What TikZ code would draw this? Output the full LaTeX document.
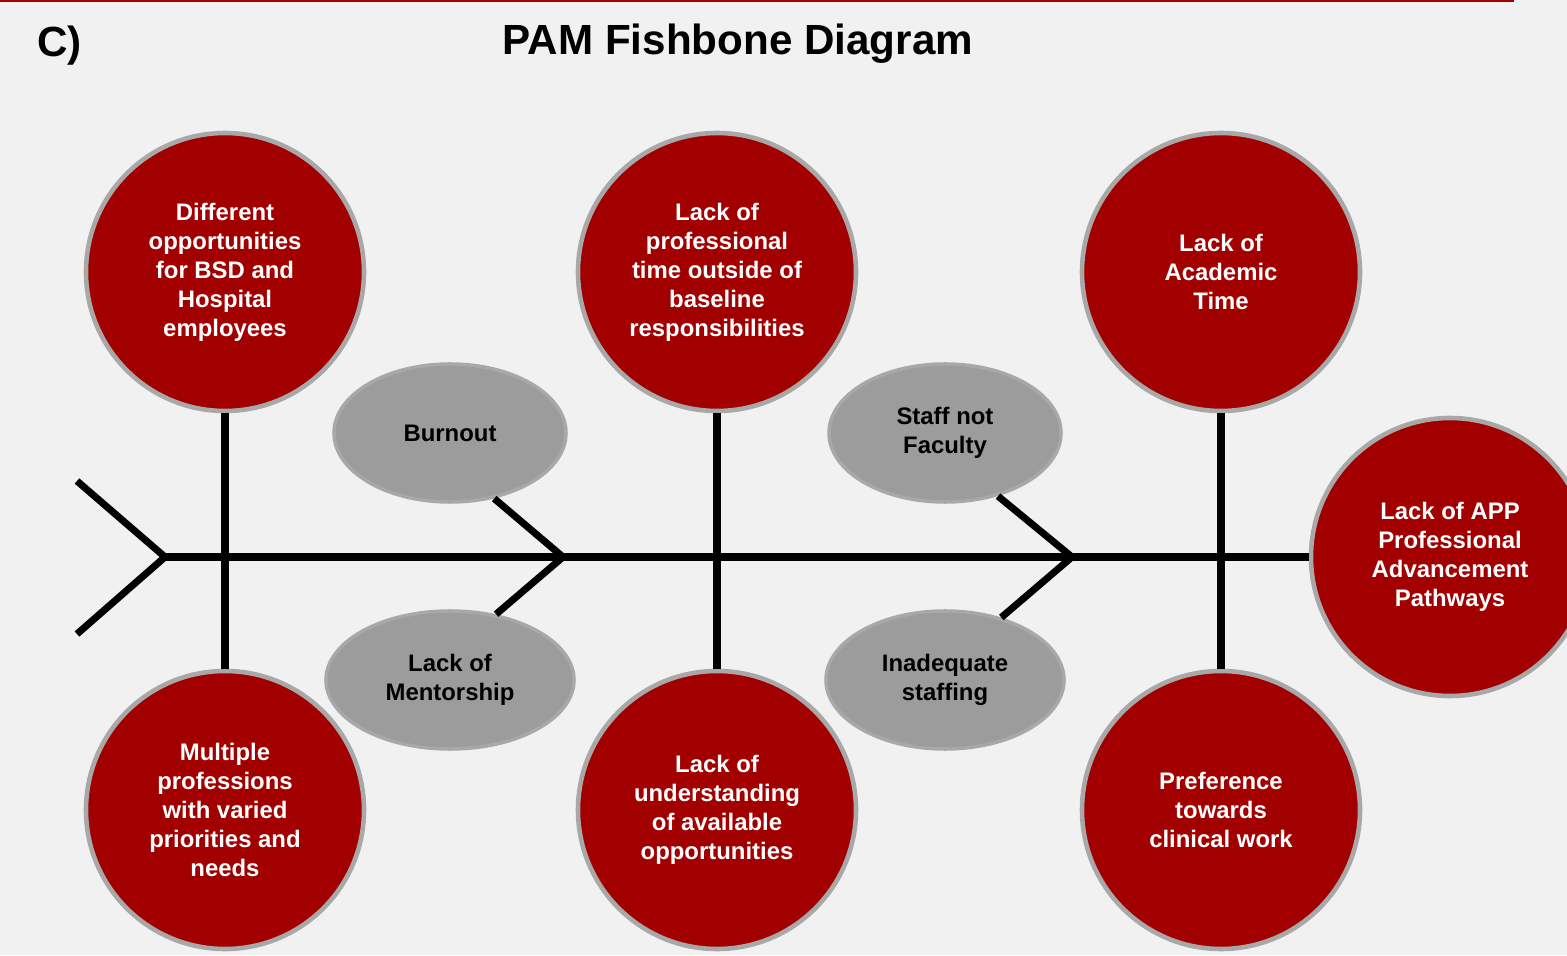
\documentclass[tikz,border=0pt]{standalone}
\usepackage{fontspec}
\setmainfont{Liberation Sans}
\usetikzlibrary{shapes.geometric, positioning, calc}
\definecolor{pagegray}{HTML}{F1F1F1}
\definecolor{causered}{HTML}{A20000}
\definecolor{rimgray}{HTML}{A8A8A8}
\definecolor{ovalgray}{HTML}{9C9C9C}
\tikzset{
  cause/.style={circle, fill=causered, draw=rimgray, line width=1.3pt,
    minimum size=2.78cm, inner sep=0pt, align=center, text=white,
    font=\fontsize{6.8}{8.25}\selectfont\bfseries},
  subcause/.style={ellipse, fill=ovalgray, draw=rimgray, line width=1pt,
    minimum height=1.38cm, inner sep=0pt, align=center,
    font=\fontsize{6.8}{8.25}\selectfont\bfseries},
  bone/.style={line width=2pt, black}
}

\begin{document}
\begin{tikzpicture}
% page
\fill[pagegray] (0,0) rectangle (15.67,9.55);
\clip (0,0) rectangle (15.67,9.55);
\draw[causered, line width=0.6pt] (0,9.54) -- (15.14,9.54);
\node[anchor=base west, font=\fontsize{12}{14}\selectfont\bfseries] (tag) at (0.25,8.98) {C)};
\node[anchor=base, font=\fontsize{12}{14}\selectfont\bfseries] (title) at (7.38,9.00) {PAM Fishbone Diagram};

% causes, top row
\node[cause] (diff) at (2.25,6.83) {Different\\opportunities\\for BSD and\\Hospital\\employees};
\node[cause] (proftime) at (7.17,6.83) {Lack of\\professional\\time outside of\\baseline\\responsibilities};
\node[cause] (acad) at (12.21,6.83) {Lack of\\Academic\\Time};
% causes, bottom row
\node[cause] (multi) at (2.25,1.45) {Multiple\\professions\\with varied\\priorities and\\needs};
\node[cause] (underst) at (7.17,1.45) {Lack of\\understanding\\of available\\opportunities};
\node[cause] (prefer) at (12.21,1.45) {Preference\\towards\\clinical work};
% head
\node[cause] (head) at (14.50,3.98) {Lack of APP\\Professional\\Advancement\\Pathways};

% small causes
\node[subcause, minimum width=2.32cm] (burnout) at (4.50,5.22) {Burnout};
\node[subcause, minimum width=2.48cm] (mentor) at (4.50,2.75) {Lack of\\Mentorship};
\node[subcause, minimum width=2.32cm] (staff) at (9.45,5.22) {Staff not\\Faculty};
\node[subcause, minimum width=2.38cm] (inadeq) at (9.45,2.75) {Inadequate\\staffing};

% spine and tail
\coordinate (tail) at (1.65,3.98);
\coordinate (j1) at (5.63,3.98);
\coordinate (j2) at (10.72,3.98);
\coordinate (fin1) at (0.77,4.74);
\coordinate (fin2) at (0.77,3.21);
\draw[bone] (fin1) -- (tail) -- (fin2);
\draw[bone] (tail) -- (head);

% bones
\draw[bone] (diff) -- (multi);
\draw[bone] (proftime) -- (underst);
\draw[bone] (acad) -- (prefer);
\draw[bone] (burnout.-56) -- (j1) -- (mentor.55);
\draw[bone] (staff.-50) -- (j2) -- (inadeq.48);
\end{tikzpicture}
\end{document}
